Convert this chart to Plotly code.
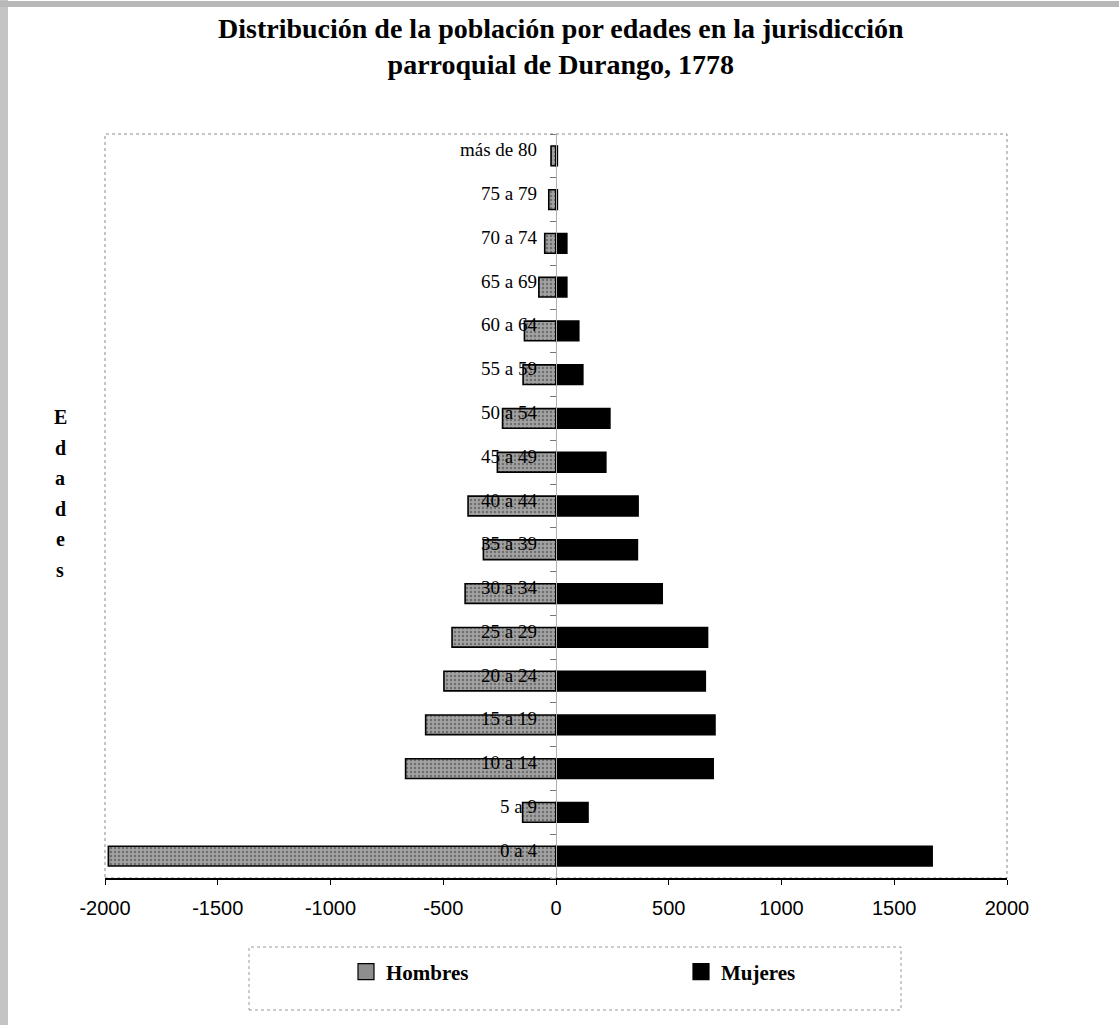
import plotly.graph_objects as go

# ---------------- data ----------------
edades = ["0 a 4", "5 a 9", "10 a 14", "15 a 19", "20 a 24", "25 a 29", "30 a 34",
          "35 a 39", "40 a 44", "45 a 49", "50 a 54", "55 a 59", "60 a 64",
          "65 a 69", "70 a 74", "75 a 79", "más de 80"]
hombres = [-1985, -148, -667, -578, -497, -461, -403, -322, -390, -260, -237,
           -146, -140, -76, -50, -32, -22]
mujeres = [1668, 142, 697, 705, 662, 672, 471, 361, 364, 221, 239,
           119, 101, 48, 48, 6, 6]
x_ticks = [-2000, -1500, -1000, -500, 0, 500, 1000, 1500, 2000]
series = ["Hombres", "Mujeres"]
titulo = "Distribución de la población por edades en la jurisdicción<br>parroquial de Durango, 1778"
eje_y = "Edades"

# ---------------- geometry (pixels) ----------------
W_FIG, H_FIG = 1119, 1025
L, R, T, B = 105, 1007, 134, 878
PW, PH = R - L, B - T


def px_x(p):
    return (p - L) / PW


def px_y(p):
    return (B - p) / PH


SERIF = "Liberation Serif, Times New Roman, serif"
SANS = "Liberation Sans, Arial, sans-serif"
GREY_BG, GREY_FG = "#a2a2a2", "#3c3c3c"

fig = go.Figure()
fig.add_trace(go.Bar(
    y=edades, x=hombres, orientation="h", name=series[0], width=0.45,
    showlegend=False,
    marker=dict(color=GREY_BG,
                line=dict(color="black", width=1.6),
                pattern=dict(shape=".", bgcolor=GREY_BG, fgcolor=GREY_FG,
                             size=4, solidity=0.3)),
))
fig.add_trace(go.Bar(
    y=edades, x=mujeres, orientation="h", name=series[1], width=0.45,
    showlegend=False,
    marker=dict(color="black", line=dict(color="black", width=1.6)),
))
# legend swatches (larger squares like the original)
fig.add_trace(go.Scatter(
    x=[None], y=[None], mode="markers", name="<b>" + series[0] + "</b>",
    marker=dict(symbol="square", size=16, color="#8e8e8e",
                line=dict(color="black", width=1.2)),
))
fig.add_trace(go.Scatter(
    x=[None], y=[None], mode="markers", name="<b>" + series[1] + "</b>",
    marker=dict(symbol="square", size=16, color="black",
                line=dict(color="black", width=1.2)),
))

annotations = [
    dict(text="<b>" + titulo + "</b>", xref="paper", yref="paper",
         x=px_x(561), y=px_y(46), xanchor="center", yanchor="middle",
         showarrow=False, font=dict(family=SERIF, size=28, color="black")),
]
for i, ch in enumerate(eje_y):
    annotations.append(dict(
        text="<b>" + ch + "</b>", xref="paper", yref="paper",
        x=px_x(60), y=px_y(417 + i * 30.5), xanchor="center", yanchor="middle",
        showarrow=False, font=dict(family=SERIF, size=20, color="black")))
# category labels sitting next to the zero line (slightly above bar centres)
for cat in edades:
    annotations.append(dict(
        text=cat, x=0, y=cat, xref="x", yref="y", xanchor="right",
        yanchor="middle", xshift=-17, yshift=6, showarrow=False,
        font=dict(family=SERIF, size=19, color="black")))

shapes = [
    # plot frame (dotted)
    dict(type="rect", xref="paper", yref="paper", x0=0, x1=1, y0=0, y1=1,
         line=dict(color="#8a8a8a", width=1, dash="dot"), layer="below"),
    # legend frame (dotted)
    dict(type="rect", xref="paper", yref="paper", x0=px_x(249), x1=px_x(901),
         y0=px_y(1010), y1=px_y(947),
         line=dict(color="#9a9a9a", width=1, dash="dot"), layer="below"),
    # scanned page borders
    dict(type="rect", xref="paper", yref="paper", x0=px_x(0), x1=px_x(8),
         y0=px_y(H_FIG), y1=px_y(0), fillcolor="#c4c4c4", line=dict(width=0)),
    dict(type="rect", xref="paper", yref="paper", x0=px_x(0), x1=px_x(W_FIG),
         y0=px_y(7), y1=px_y(1), fillcolor="#b8b8b8", line=dict(width=0)),
]

fig.update_layout(
    width=W_FIG, height=H_FIG,
    margin=dict(l=L, r=W_FIG - R, t=T, b=H_FIG - B, autoexpand=False),
    paper_bgcolor="white", plot_bgcolor="white",
    barmode="relative", bargap=0.55,
    showlegend=True,
    legend=dict(orientation="h", x=px_x(346), y=px_y(972), xanchor="left",
                yanchor="middle", bgcolor="rgba(0,0,0,0)",
                font=dict(family=SERIF, size=21, color="black"),
                entrywidth=290, entrywidthmode="pixels", traceorder="normal",
                itemclick=False, itemwidth=30),
    annotations=annotations,
    shapes=shapes,
    xaxis=dict(range=[-2000, 2000], tickvals=x_ticks,
               ticktext=[str(v) for v in x_ticks],
               showgrid=False, zeroline=False,
               showline=True, linecolor="black", linewidth=1.5,
               ticks="outside", ticklen=5, tickcolor="black", tickwidth=1,
               ticklabelstandoff=6,
               tickfont=dict(family=SANS, size=20, color="black"),
               fixedrange=True),
    yaxis=dict(type="category", categoryorder="array", categoryarray=edades,
               anchor="free", position=0.5, side="left",
               showgrid=False, zeroline=False, showticklabels=False,
               showline=True, linecolor="#b0b0b0", linewidth=1,
               ticks="outside", tickson="boundaries", ticklen=6,
               tickcolor="#777777", tickwidth=1,
               range=[-0.5, len(edades) - 0.5], fixedrange=True),
)

fig.write_html("out.html")
